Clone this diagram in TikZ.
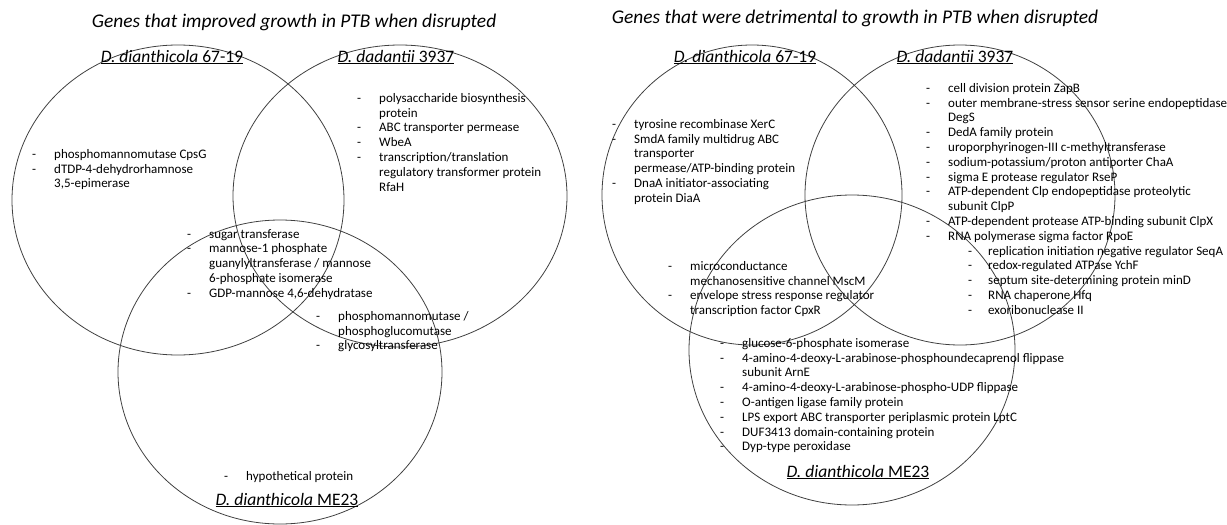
\documentclass[tikz,border=0pt]{standalone}
\usepackage{fontspec}
\setmainfont{Carlito}
\newcommand*\gene[1]{\makebox[22pt][l]{-}#1}
\newcommand*\genecont[1]{\hspace*{22pt}#1}
\newcommand*\subgene[1]{\hspace*{42pt}\makebox[20pt][l]{-}#1}
\newcommand*\strainname[2]{\underline{\textit{#1} #2}}
\begin{document}
\begin{tikzpicture}[x=1pt,y=-1pt,
  venn/.style={draw=black!75,line width=0.8pt},
  ttl/.style={font=\fontsize{19.4}{22}\selectfont\itshape},
  strain/.style={font=\fontsize{17.5}{20}\selectfont},
  genes/.style={anchor=north west,inner sep=0pt,align=left,font=\fontsize{13}{14.8}\selectfont}]
\useasboundingbox (0,0) rectangle (1227,525);
% left: improved growth
\draw[venn] (178,200) ellipse [x radius=166,y radius=155];
\draw[venn] (400,196) ellipse [x radius=167,y radius=151];
\draw[venn] (280,372) ellipse [x radius=162,y radius=152];
\node[ttl] (ttlA) at (294,22) {Genes that improved growth in PTB when disrupted};
\node[strain] (dianA) at (172,57) {\strainname{D. dianthicola}{67-19}};
\node[strain] (dadA) at (396,57) {\strainname{D. dadantii}{3937}};
\node[strain] (meA) at (287,500) {\strainname{D. dianthicola}{ME23}};
\node[genes] (listA1) at (32,149) {\gene{phosphomannomutase CpsG}\\
  \gene{dTDP-4-dehydrorhamnose}\\ \genecont{3,5-epimerase}};
\node[genes] (listA2) at (357,93) {\gene{polysaccharide biosynthesis}\\
  \genecont{protein}\\ \gene{ABC transporter permease}\\ \gene{WbeA}\\
  \gene{transcription/translation}\\ \genecont{regulatory transformer protein}\\
  \genecont{RfaH}};
\node[genes] (listA3) at (187,229) {\gene{sugar transferase}\\
  \gene{mannose-1 phosphate}\\ \genecont{guanylyltransferase / mannose}\\
  \genecont{6-phosphate isomerase}\\ \gene{GDP-mannose 4,6-dehydratase}};
\node[genes] (listA4) at (316,311) {\gene{phosphomannomutase /}\\
  \genecont{phosphoglucomutase}\\ \gene{glycosyltransferase}};
\node[genes] (listA5) at (224,471) {\gene{hypothetical protein}};
% right: detrimental to growth
\draw[venn] (752,195) ellipse [x radius=150,y radius=150];
\draw[venn] (960,195) ellipse [x radius=155,y radius=150];
\draw[venn] (852,350) ellipse [x radius=163,y radius=155];
\node[ttl] (ttlB) at (855,18) {Genes that were detrimental to growth in PTB when disrupted};
\node[strain] (dianB) at (745,57) {\strainname{D. dianthicola}{67-19}};
\node[strain] (dadB) at (955,57) {\strainname{D. dadantii}{3937}};
\node[strain] (meB) at (858,472) {\strainname{D. dianthicola}{ME23}};
\node[genes] (listB1) at (612,119) {\gene{tyrosine recombinase XerC}\\
  \gene{SmdA family multidrug ABC}\\ \genecont{transporter}\\
  \genecont{permease/ATP-binding protein}\\ \gene{DnaA initiator-associating}\\
  \genecont{protein DiaA}};
\node[genes] (listB2) at (926,83) {\gene{cell division protein ZapB}\\
  \gene{outer membrane-stress sensor serine endopeptidase}\\ \genecont{DegS}\\
  \gene{DedA family protein}\\ \gene{uroporphyrinogen-III c-methyltransferase}\\
  \gene{sodium-potassium/proton antiporter ChaA}\\
  \gene{sigma E protease regulator RseP}\\
  \gene{ATP-dependent Clp endopeptidase proteolytic}\\ \genecont{subunit ClpP}\\
  \gene{ATP-dependent protease ATP-binding subunit ClpX}\\
  \gene{RNA polymerase sigma factor RpoE}\\
  \subgene{replication initiation negative regulator SeqA}\\
  \subgene{redox-regulated ATPase YchF}\\
  \subgene{septum site-determining protein minD}\\
  \subgene{RNA chaperone Hfq}\\ \subgene{exoribonuclease II}};
\node[genes] (listB3) at (668,261) {\gene{microconductance}\\
  \genecont{mechanosensitive channel MscM}\\
  \gene{envelope stress response regulator}\\ \genecont{transcription factor CpxR}};
\node[genes] (listB4) at (720,338) {\gene{glucose-6-phosphate isomerase}\\
  \gene{4-amino-4-deoxy-L-arabinose-phosphoundecaprenol flippase}\\
  \genecont{subunit ArnE}\\
  \gene{4-amino-4-deoxy-L-arabinose-phospho-UDP flippase}\\
  \gene{O-antigen ligase family protein}\\
  \gene{LPS export ABC transporter periplasmic protein LptC}\\
  \gene{DUF3413 domain-containing protein}\\ \gene{Dyp-type peroxidase}};
\end{tikzpicture}
\end{document}
